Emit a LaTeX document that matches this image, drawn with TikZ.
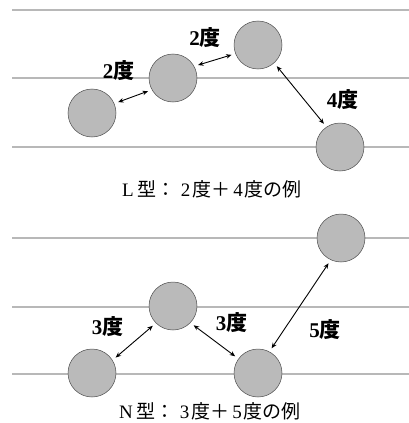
\documentclass[tikz,border=0pt]{standalone}
\usepackage{fontspec}
\usetikzlibrary{arrows.meta}
\setmainfont{Liberation Serif}
\newfontfamily\jpfont{Noto Sans CJK JP}
\newfontfamily\jpbold{Noto Sans CJK JP Bold}
\begin{document}
\begin{tikzpicture}[x=1pt,y=-1pt,
  ball/.style={circle,draw=black!70,line width=0.5pt,fill=black!27,minimum size=48pt,inner sep=0pt},
  staff/.style={draw=black!28,line width=1.6pt},
  dbl/.style={{Stealth[length=5.5pt,width=4.5pt]}-{Stealth[length=5.5pt,width=4.5pt]},line width=0.9pt,shorten <=4pt,shorten >=4pt},
  deg/.style={font=\fontsize{21}{21}\selectfont\bfseries,inner sep=0pt},
  captext/.style={font=\fontsize{19}{19}\selectfont,inner sep=0pt,anchor=west}]
\useasboundingbox (0,0) rectangle (409,423);
% staff lines
\foreach \y in {10,78,147,238,307,374}{\draw[staff] (12,\y) -- (409,\y);}
% top
\node[ball] (c1) at (92,113) {};
\node[ball] (c2) at (173,78) {};
\node[ball] (c3) at (258,45) {};
\node[ball] (c4) at (340,147) {};
\draw[dbl] (c1.23) -- (c2.209);
\draw[dbl] (c2.29) -- (c3.201);
\draw[dbl] (c3.-48) -- (c4.124);
\node[deg] (l1) at (118.5,71) {2{\jpbold 度}};
\node[deg] (l2) at (205,38) {2{\jpbold 度}};
\node[deg] (l3) at (342.5,100) {4{\jpbold 度}};
\node[captext] (t1) at (122,189) {L\hspace{4pt}{\jpfont 型：}\hspace{5pt}2\hspace{2pt}{\jpfont 度＋}\hspace{3pt}4\hspace{2pt}{\jpfont 度の例}};
% bottom
\node[ball] (d1) at (92,373) {};
\node[ball] (d2) at (173,306) {};
\node[ball] (d3) at (258,373) {};
\node[ball] (d4) at (341,238) {};
\draw[dbl] (d1.32) -- (d2.225);
\draw[dbl] (d2.-44) -- (d3.144);
\draw[dbl] (d3.62) -- (d4.245);
\node[deg] (m1) at (107.5,327) {3{\jpbold 度}};
\node[deg] (m2) at (231.5,323) {3{\jpbold 度}};
\node[deg] (m3) at (325,330) {5{\jpbold 度}};
\node[captext] (t2) at (119,411) {N\hspace{4pt}{\jpfont 型：}\hspace{5pt}3\hspace{2pt}{\jpfont 度＋}\hspace{3pt}5\hspace{2pt}{\jpfont 度の例}};
\end{tikzpicture}
\end{document}
